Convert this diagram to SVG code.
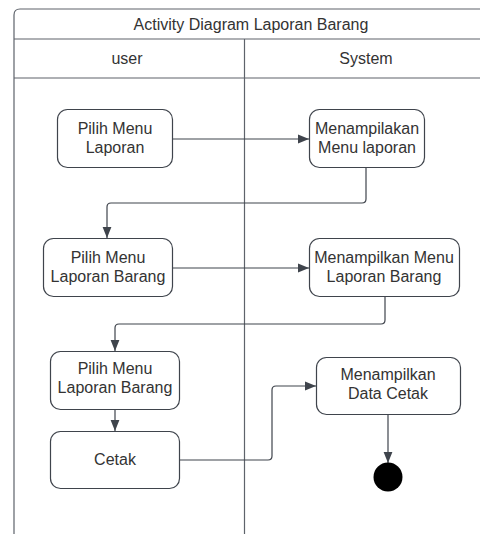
<svg xmlns="http://www.w3.org/2000/svg" width="480" height="534" viewBox="0 0 480 534">
  <style>
    .lane { fill: none; stroke: #5e636b; stroke-width: 1.2; }
    .node rect { fill: #ffffff; stroke: #3f444c; stroke-width: 1.2; }
    .label { font-family: "Liberation Sans", Arial, sans-serif; font-size: 16px; fill: #333333; text-anchor: middle; }
    .edge { fill: none; stroke: #3f444c; stroke-width: 1.2; marker-end: url(#arrow); }
  </style>
  <defs>
    <marker id="arrow" viewBox="0 0 10 10" refX="10" refY="5" markerWidth="11" markerHeight="11" markerUnits="userSpaceOnUse" orient="auto">
      <path d="M0,1 L10,5 L0,9 z" fill="#3f444c"/>
    </marker>
  </defs>
  <rect width="480" height="534" fill="#ffffff"/>

  <!-- swimlane frame -->
  <g id="frame">
    <path class="lane" d="M14,534 V15 Q14,9 20,9 H481"/>
    <line class="lane" x1="14" y1="39" x2="481" y2="39"/>
    <line class="lane" x1="14" y1="78" x2="481" y2="78"/>
    <line class="lane" x1="244.5" y1="39" x2="244.5" y2="534"/>
    <text class="label" x="251" y="29.5">Activity Diagram Laporan Barang</text>
    <text class="label" x="127" y="64">user</text>
    <text class="label" x="366" y="64">System</text>
  </g>

  <!-- connectors -->
  <g id="connectors">
    <path class="edge" d="M172,139 H309"/>
    <path class="edge" d="M366,167 V199 Q366,203 362,203 H111 Q107,203 107,207 V238"/>
    <path class="edge" d="M172,268 H309"/>
    <path class="edge" d="M385,296 V320 Q385,324 381,324 H119 Q115,324 115,328 V351"/>
    <path class="edge" d="M115,409 V431"/>
    <path class="edge" d="M179,460 H268 Q272,460 272,456 V390 Q272,386 276,386 H316"/>
    <path class="edge" d="M388,414 V463"/>
  </g>

  <g id="pilih-menu-laporan" class="node">
    <rect x="57.5" y="109.5" width="115" height="58" rx="10"/>
    <text class="label" x="115" y="134">Pilih Menu</text>
    <text class="label" x="115" y="153">Laporan</text>
  </g>

  <g id="menampilkan-menu-laporan" class="node">
    <rect x="309.5" y="109.5" width="115" height="58" rx="10"/>
    <text class="label" x="367" y="134">Menampilakan</text>
    <text class="label" x="367" y="153">Menu laporan</text>
  </g>

  <g id="pilih-menu-laporan-barang" class="node">
    <rect x="43.5" y="238.5" width="129" height="58" rx="10"/>
    <text class="label" x="108" y="263">Pilih Menu</text>
    <text class="label" x="108" y="282">Laporan Barang</text>
  </g>

  <g id="menampilkan-menu-laporan-barang" class="node">
    <rect x="309.5" y="238.5" width="150" height="58" rx="10"/>
    <text class="label" x="384" y="263">Menampilkan Menu</text>
    <text class="label" x="384" y="282">Laporan Barang</text>
  </g>

  <g id="pilih-menu-laporan-barang-2" class="node">
    <rect x="50.5" y="351.5" width="129" height="58" rx="10"/>
    <text class="label" x="115" y="374">Pilih Menu</text>
    <text class="label" x="115" y="393">Laporan Barang</text>
  </g>

  <g id="cetak" class="node">
    <rect x="50.5" y="431.5" width="129" height="57" rx="10"/>
    <text class="label" x="115" y="465">Cetak</text>
  </g>

  <g id="menampilkan-data-cetak" class="node">
    <rect x="316.5" y="357.5" width="144" height="57" rx="10"/>
    <text class="label" x="388" y="380">Menampilkan</text>
    <text class="label" x="388" y="399">Data Cetak</text>
  </g>

  <g id="final">
    <circle cx="388" cy="477" r="14.5" fill="#000000"/>
  </g>
</svg>
